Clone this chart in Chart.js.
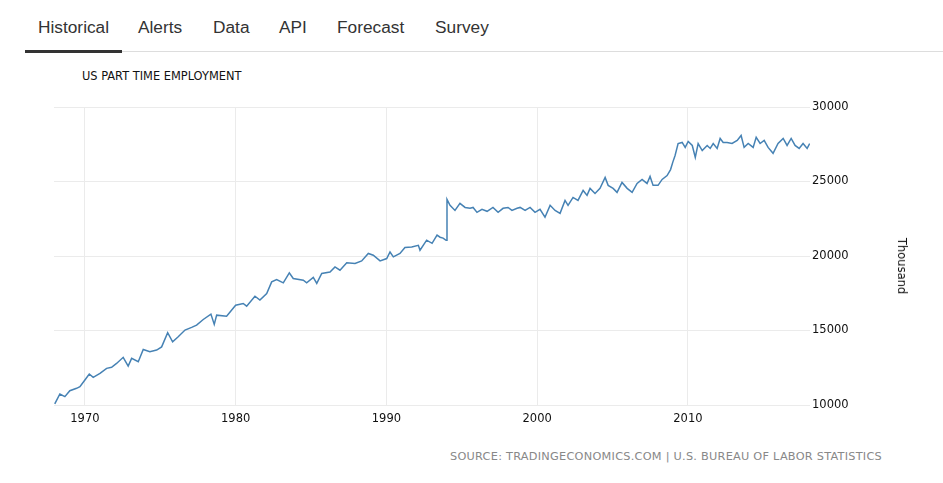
<!DOCTYPE html>
<html>
<head>
<meta charset="utf-8">
<script src="https://cdn.jsdelivr.net/npm/chart.js@4/dist/chart.umd.min.js"></script>
<style>
  body { margin: 0; background: #fff; width: 943px; height: 483px; position: relative; overflow: hidden; }
  .tab { position: absolute; top: 17px; font: 17.3px "Liberation Sans", Arial, sans-serif; color: #333; }
  #tabline { position: absolute; left: 25px; top: 51px; width: 918px; height: 1px; background: #ddd; }
  #tabsel { position: absolute; left: 25px; top: 50px; width: 97px; height: 3px; background: #333; }
  #title { position: absolute; left: 82px; top: 69px; font: 11.4px "DejaVu Sans", sans-serif; color: #111; }
  #source { position: absolute; left: 450px; top: 450px; font: 11.3px "DejaVu Sans", sans-serif; color: #888; letter-spacing: 0.25px; }
  #unit { position: absolute; top: 266px; left: 902px; font: 11.5px "DejaVu Sans", sans-serif; color: #111;
          transform: translate(-50%, -50%) rotate(90deg); white-space: nowrap; }
  #wrap { position: absolute; left: 0; top: 60px; width: 943px; height: 380px; }
</style>
</head>
<body>
<div class="tab" style="left:38px">Historical</div>
<div class="tab" style="left:138px">Alerts</div>
<div class="tab" style="left:213px">Data</div>
<div class="tab" style="left:279px">API</div>
<div class="tab" style="left:337px">Forecast</div>
<div class="tab" style="left:435px">Survey</div>
<div id="tabline"></div>
<div id="tabsel"></div>
<div id="title">US PART TIME EMPLOYMENT</div>
<div id="wrap"><canvas id="chart"></canvas></div>
<div id="unit">Thousand</div>
<div id="source">SOURCE: TRADINGECONOMICS.COM | U.S. BUREAU OF LABOR STATISTICS</div>
<script>
// values (thousands), by decimal year
var years = [
  1968.0, 1968.34, 1968.67, 1969.0, 1969.45, 1969.67, 1970.0, 1970.29, 1970.55, 1971.0,
  1971.44, 1971.77, 1972.1, 1972.54, 1972.87, 1973.1, 1973.54, 1973.87, 1974.31, 1974.76,
  1975.09, 1975.49, 1975.82, 1976.19, 1976.64, 1977.08, 1977.41, 1977.85, 1978.36, 1978.58,
  1978.74, 1979.4, 1980.0, 1980.5, 1980.73, 1981.28, 1981.61, 1982.06, 1982.39, 1982.72,
  1983.16, 1983.56, 1983.82, 1984.49, 1984.71, 1985.15, 1985.38, 1985.71, 1986.26, 1986.59,
  1986.92, 1987.37, 1987.92, 1988.36, 1988.8, 1989.13, 1989.58, 1990.02, 1990.24, 1990.46,
  1990.9, 1991.23, 1991.68, 1992.12, 1992.23, 1992.67, 1993.03, 1993.36, 1993.56, 1993.76,
  1993.96, 1994.02, 1994.22, 1994.55, 1994.88, 1995.22, 1995.55, 1995.75, 1996.01, 1996.34,
  1996.68, 1997.07, 1997.41, 1997.74, 1998.07, 1998.33, 1998.67, 1998.87, 1999.2, 1999.53,
  1999.86, 2000.19, 2000.52, 2000.86, 2001.19, 2001.52, 2001.85, 2002.05, 2002.38, 2002.71,
  2003.05, 2003.31, 2003.51, 2003.84, 2004.17, 2004.51, 2004.71, 2005.04, 2005.3, 2005.63,
  2005.97, 2006.3, 2006.63, 2006.96, 2007.29, 2007.49, 2007.69, 2008.02, 2008.29, 2008.62,
  2008.85, 2009.0, 2009.15, 2009.35, 2009.62, 2009.82, 2010.02, 2010.29, 2010.49, 2010.68,
  2010.95, 2011.28, 2011.48, 2011.68, 2011.94, 2012.14, 2012.34, 2012.6, 2012.93, 2013.27,
  2013.53, 2013.73, 2014.0, 2014.33, 2014.53, 2014.79, 2015.06, 2015.32, 2015.65, 2015.98,
  2016.32, 2016.58, 2016.85, 2017.11, 2017.38, 2017.64, 2017.91, 2018.08
];
var employment = [
  10070, 10740, 10560, 10960, 11120, 11230, 11680, 12080, 11860, 12120,
  12460, 12530, 12790, 13200, 12610, 13130, 12900, 13730, 13570, 13690,
  13900, 14850, 14240, 14580, 15030, 15210, 15360, 15740, 16100, 15410,
  16030, 15960, 16700, 16810, 16630, 17300, 17040, 17480, 18260, 18420,
  18200, 18870, 18490, 18380, 18200, 18560, 18160, 18830, 18930, 19270,
  19050, 19540, 19500, 19670, 20170, 20050, 19670, 19830, 20270, 19940,
  20170, 20570, 20610, 20720, 20390, 21060, 20850, 21400, 21260, 21200,
  21050, 23800, 23400, 23060, 23530, 23260, 23200, 23260, 22930, 23130,
  23000, 23260, 22930, 23200, 23260, 23060, 23200, 23260, 23060, 23260,
  22930, 23130, 22600, 23400, 23060, 22860, 23730, 23400, 23930, 23730,
  24400, 24070, 24540, 24200, 24540, 25270, 24740, 24540, 24270, 24940,
  24540, 24270, 24870, 25140, 24870, 25340, 24740, 24740, 25140, 25400,
  25800, 26300, 26750, 27550, 27620, 27290, 27690, 27420, 26620, 27550,
  27080, 27420, 27220, 27550, 27220, 27890, 27620, 27620, 27550, 27760,
  28090, 27290, 27550, 27290, 27960, 27550, 27760, 27290, 26890, 27550,
  27890, 27420, 27890, 27420, 27220, 27550, 27220, 27550
];
var xTicks = [1970, 1980, 1990, 2000, 2010];
var yTicks = [10000, 15000, 20000, 25000, 30000];

var points = [];
for (var i = 0; i < years.length; i++) {
  points.push({x: years[i], y: employment[i]});
}

var tickFont = {family: 'DejaVu Sans', size: 11.5};

new Chart(document.getElementById('chart'), {
  type: 'line',
  data: {
    datasets: [{
      data: points,
      borderColor: '#4682b4',
      borderWidth: 1.5,
      pointRadius: 0,
      tension: 0,
      fill: false
    }]
  },
  options: {
    responsive: true,
    maintainAspectRatio: false,
    animation: false,
    events: [],
    layout: {padding: {left: 54, top: 47, right: 0, bottom: 0}},
    plugins: {legend: {display: false}, tooltip: {enabled: false}},
    scales: {
      x: {
        type: 'linear',
        min: 1967.95,
        max: 2018.1,
        afterBuildTicks: function(scale) {
          scale.ticks = xTicks.map(function(v) { return {value: v}; });
        },
        afterFit: function(scale) { scale.height = 35; },
        grid: {color: '#ebebeb', drawTicks: false},
        border: {display: false},
        ticks: {
          color: '#111', font: tickFont, padding: 7, maxRotation: 0,
          callback: function(v) { return v; }
        }
      },
      y: {
        position: 'right',
        min: 10000,
        max: 30000,
        afterBuildTicks: function(scale) {
          scale.ticks = yTicks.map(function(v) { return {value: v}; });
        },
        afterFit: function(scale) { scale.width = 133; },
        grid: {color: '#ebebeb', drawTicks: false},
        border: {display: false},
        ticks: {
          color: '#111', font: tickFont, padding: 2,
          callback: function(v) { return v; }
        }
      }
    }
  }
});
</script>
</body>
</html>
